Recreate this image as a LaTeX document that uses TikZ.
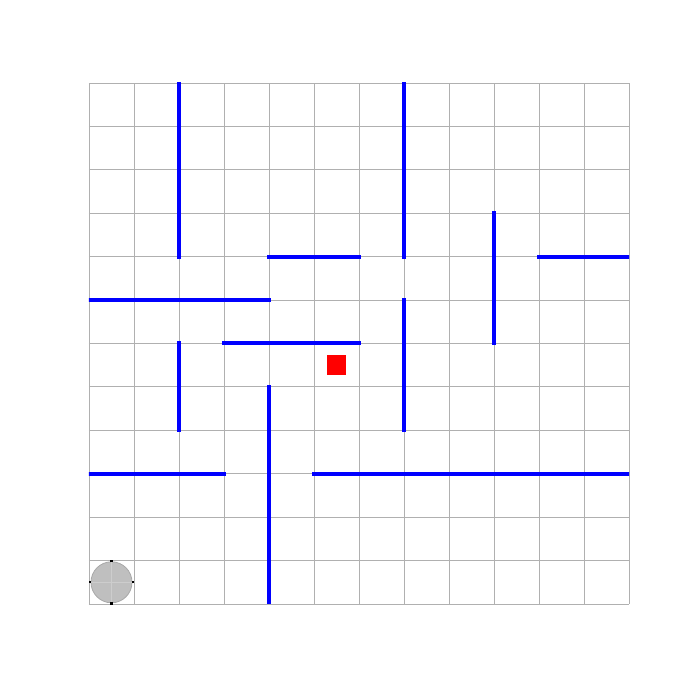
\documentclass[tikz,border=0pt]{standalone}
\usetikzlibrary{calc}
\definecolor{gridc}{HTML}{B0B0B0}
\definecolor{botfill}{HTML}{BFBFBF}
\definecolor{botedge}{HTML}{A8A8A8}
\definecolor{botcross}{HTML}{CDCDCD}
\tikzset{
  gridline/.style={draw=gridc, line width=0.9pt},
  wall/.style={draw=blue, line width=4pt, line cap=rect},
  tick/.style={fill=black},
}
\begin{document}
\begin{tikzpicture}[x=45pt, y=43.4167pt]
\useasboundingbox (-1.9778,-1.7505) rectangle (13.5778,13.9117);
\fill[white] (-1.9778,-1.7505) rectangle (13.5778,13.9117);
% grid
\foreach \i in {0,...,12} {
  \draw[gridline] (\i,0) -- (\i,12);
  \draw[gridline] (0,\i) -- (12,\i);
}
% walls
\begin{scope}
\clip (0,0) rectangle (12,12);
\draw[wall] (2,12) -- (2,8);
\draw[wall] (7,12) -- (7,8);
\draw[wall] (4,8) -- (6,8);
\draw[wall] (9,9) -- (9,6);
\draw[wall] (10,8) -- (12,8);
\draw[wall] (0,7) -- (4,7);
\draw[wall] (7,7) -- (7,4);
\draw[wall] (3,6) -- (6,6);
\draw[wall] (2,6) -- (2,4);
\draw[wall] (4,5) -- (4,0);
\draw[wall] (0,3) -- (3,3);
\draw[wall] (5,3) -- (12,3);
\end{scope}
% goal
\coordinate (goal) at (5.5,5.5);
\fill[red] ($(goal)+(-9.5pt,-10pt)$) rectangle ($(goal)+(9.5pt,10pt)$);
% robot
\coordinate (rob) at (0.5,0.5);
\fill[botfill, draw=botedge, line width=0.8pt] (rob) circle[radius=20.5pt];
\draw[botcross, line width=0.7pt] ([xshift=-20pt]rob) -- ([xshift=20pt]rob);
\draw[botcross, line width=0.7pt] ([yshift=-20pt]rob) -- ([yshift=20pt]rob);
\fill[tick] ([xshift=-1.2pt,yshift=20pt]rob) rectangle ([xshift=1.2pt,yshift=22.5pt]rob);
\fill[tick] ([xshift=-1.2pt,yshift=-20pt]rob) rectangle ([xshift=1.2pt,yshift=-22.5pt]rob);
\fill[tick] ([xshift=-20pt,yshift=-1.2pt]rob) rectangle ([xshift=-22pt,yshift=1.2pt]rob);
\fill[tick] ([xshift=20pt,yshift=-1.2pt]rob) rectangle ([xshift=22pt,yshift=1.2pt]rob);
\end{tikzpicture}
\end{document}
